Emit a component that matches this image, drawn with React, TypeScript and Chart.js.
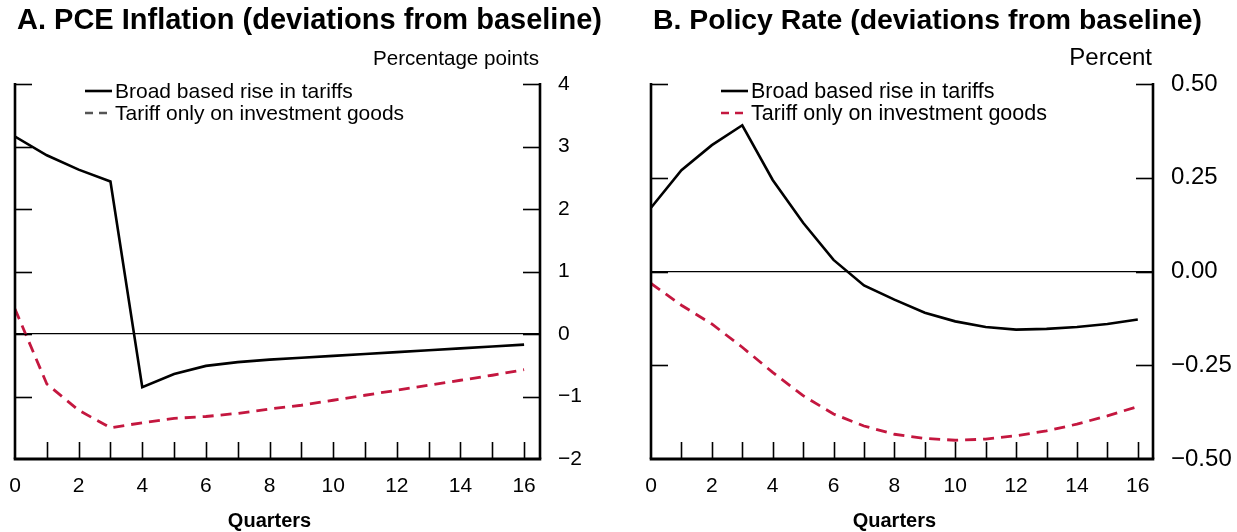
import React, { useEffect, useRef } from "react";
import { Chart, registerables } from "chart.js";

Chart.register(...registerables);

// ---------- data ----------
const quarters = [0, 1, 2, 3, 4, 5, 6, 7, 8, 9, 10, 11, 12, 13, 14, 15, 16];
const xTickValues = [0, 2, 4, 6, 8, 10, 12, 14, 16];

const pceBroad = [3.16, 2.86, 2.63, 2.44, -0.85, -0.64, -0.51, -0.45, -0.41, -0.38, -0.35, -0.32, -0.29, -0.26, -0.23, -0.2, -0.17];
const pceInvest = [0.4, -0.8, -1.22, -1.5, -1.42, -1.35, -1.32, -1.27, -1.2, -1.14, -1.06, -0.98, -0.9, -0.82, -0.74, -0.66, -0.57];
const pceYTicks = [4, 3, 2, 1, 0, -1, -2];

const policyBroad = [0.17, 0.27, 0.337, 0.39, 0.244, 0.13, 0.031, -0.037, -0.075, -0.11, -0.133, -0.148, -0.155, -0.153, -0.148, -0.14, -0.128];
const policyInvest = [-0.032, -0.09, -0.14, -0.202, -0.269, -0.331, -0.38, -0.412, -0.434, -0.445, -0.45, -0.447, -0.438, -0.425, -0.407, -0.385, -0.36];
const policyYTicks = [0.5, 0.25, 0, -0.25, -0.5];

const legendLabels = ["Broad based rise in tariffs", "Tariff only on investment goods"];
const panelTitles = ["A. PCE Inflation (deviations from baseline)", "B. Policy Rate (deviations from baseline)"];
const unitLabels = ["Percentage points", "Percent"];
const xAxisTitle = "Quarters";

// ---------- styles ----------
const FAMILY = '"Liberation Sans", Arial, Helvetica, sans-serif';
const RED = "#C4173F";
const H = 532;
const PLOT_TOP = 84;
const PLOT_BOTTOM = 459;

const minus = (s: string) => s.replace("-", "\u2212");

type Spec = {
  title: string;
  unit: string;
  broad: number[];
  invest: number[];
  yMin: number;
  yMax: number;
  yTicks: number[];
  fmt: (v: number) => string;
  width: number;
  plotLeft: number;
  plotRight: number;
  legendDashColor: string;
  titleSize: number;
  unitSize: number;
  yLabelSize: number;
  legendSize: number;
};

function line(ctx: CanvasRenderingContext2D, x1: number, y1: number, x2: number, y2: number) {
  ctx.beginPath();
  ctx.moveTo(x1, y1);
  ctx.lineTo(x2, y2);
  ctx.stroke();
}

function makePlugin(spec: Spec) {
  return {
    id: "frameAndText",
    afterDraw(chart: any) {
      const ctx: CanvasRenderingContext2D = chart.ctx;
      const { left, right, top, bottom } = chart.chartArea;
      const xs = chart.scales.x;
      const ys = chart.scales.y;
      ctx.save();
      ctx.strokeStyle = "#000";
      ctx.fillStyle = "#000";
      ctx.lineCap = "butt";
      ctx.setLineDash([]);

      // inward y ticks, both sides
      ctx.lineWidth = 1.6;
      for (const v of spec.yTicks) {
        if (v === spec.yMin) continue;
        const py = Math.round(ys.getPixelForValue(v)) + 0.5;
        line(ctx, left, py, left + 17, py);
        line(ctx, right - 17, py, right, py);
      }
      // inward x ticks
      for (const q of quarters) {
        if (q === 0) continue;
        const px = Math.round(xs.getPixelForValue(q)) + 0.5;
        line(ctx, px, bottom, px, bottom - 17);
      }
      // frame
      ctx.lineWidth = 2.6;
      line(ctx, left, top - 1, left, bottom);
      line(ctx, right, top - 1, right, bottom);
      ctx.lineWidth = 3;
      line(ctx, left - 1.3, bottom, right + 1.3, bottom);

      // title
      ctx.textAlign = "left";
      ctx.textBaseline = "alphabetic";
      ctx.font = `bold ${spec.titleSize}px ${FAMILY}`;
      ctx.fillText(spec.title, left + 2, 29);
      // unit
      ctx.textAlign = "right";
      ctx.font = `${spec.unitSize}px ${FAMILY}`;
      ctx.fillText(spec.unit, right - 1, 65);

      // legend
      const lx = left + 70;
      const rows = [91, 113];
      ctx.lineWidth = 2.6;
      line(ctx, lx, rows[0], lx + 27, rows[0]);
      ctx.strokeStyle = spec.legendDashColor;
      ctx.setLineDash([8, 6]);
      line(ctx, lx, rows[1], lx + 28, rows[1]);
      ctx.setLineDash([]);
      ctx.textAlign = "left";
      ctx.textBaseline = "middle";
      ctx.font = `${spec.legendSize}px ${FAMILY}`;
      ctx.fillText(legendLabels[0], lx + 30, rows[0] + 1);
      ctx.fillText(legendLabels[1], lx + 30, rows[1] + 1);

      // x axis title
      ctx.textAlign = "center";
      ctx.font = `bold 20px ${FAMILY}`;
      ctx.fillText(xAxisTitle, xs.getPixelForValue(8), 521);
      ctx.restore();
    },
  };
}

function Panel({ spec, offset }: { spec: Spec; offset: number }) {
  const ref = useRef<HTMLCanvasElement | null>(null);
  useEffect(() => {
    if (!ref.current) return;
    const chart = new Chart(ref.current, {
      type: "line",
      data: {
        datasets: [
          {
            label: legendLabels[0],
            data: quarters.map((q, i) => ({ x: q, y: spec.broad[i] })),
            borderColor: "#000",
            borderWidth: 2.6,
            pointRadius: 0,
            tension: 0,
            fill: false,
          },
          {
            label: legendLabels[1],
            data: quarters.map((q, i) => ({ x: q, y: spec.invest[i] })),
            borderColor: RED,
            borderWidth: 2.8,
            borderDash: [11, 7],
            pointRadius: 0,
            tension: 0,
            fill: false,
          },
        ],
      },
      options: {
        animation: false,
        responsive: false,
        devicePixelRatio: 1,
        layout: { padding: { left: spec.plotLeft, top: PLOT_TOP, right: 0, bottom: 0 } },
        plugins: { legend: { display: false }, tooltip: { enabled: false }, title: { display: false } },
        scales: {
          x: {
            type: "linear",
            min: 0,
            max: 16.5,
            afterBuildTicks: (s: any) => {
              s.ticks = xTickValues.map((v) => ({ value: v }));
            },
            afterFit: (s: any) => {
              s.height = H - PLOT_BOTTOM;
              s.paddingLeft = 0;
              s.paddingRight = 0;
            },
            grid: { display: false, drawTicks: false },
            border: { display: false },
            ticks: {
              color: "#000",
              font: { family: FAMILY, size: 21 },
              padding: 15,
              maxRotation: 0,
              autoSkip: false,
              callback: (v: any) => String(v),
            },
          },
          y: {
            type: "linear",
            position: "right",
            min: spec.yMin,
            max: spec.yMax,
            afterBuildTicks: (s: any) => {
              s.ticks = spec.yTicks.map((v) => ({ value: v }));
            },
            afterFit: (s: any) => {
              s.width = spec.width - spec.plotRight;
              s.paddingTop = 0;
              s.paddingBottom = 0;
            },
            grid: {
              drawTicks: false,
              color: (c: any) => (c.tick && c.tick.value === 0 ? "#000" : "rgba(0,0,0,0)"),
              lineWidth: 1.3,
            },
            border: { display: false },
            ticks: {
              color: "#000",
              font: { family: FAMILY, size: spec.yLabelSize },
              padding: 18,
              crossAlign: "near",
              callback: (v: any) => spec.fmt(Number(v)),
            },
          },
        },
      },
      plugins: [makePlugin(spec)],
    } as any);
    return () => chart.destroy();
  }, [spec]);
  return (
    <canvas
      ref={ref}
      width={spec.width}
      height={H}
      style={{ position: "absolute", left: offset, top: 0, display: "block" }}
    />
  );
}

const leftSpec: Spec = {
  title: panelTitles[0],
  unit: unitLabels[0],
  broad: pceBroad,
  invest: pceInvest,
  yMin: -2,
  yMax: 4,
  yTicks: pceYTicks,
  fmt: (v) => minus(String(v)),
  width: 618,
  plotLeft: 15,
  plotRight: 540,
  legendDashColor: "#555",
  titleSize: 29,
  unitSize: 20.6,
  yLabelSize: 21,
  legendSize: 21,
};

const rightSpec: Spec = {
  title: panelTitles[1],
  unit: unitLabels[1],
  broad: policyBroad,
  invest: policyInvest,
  yMin: -0.5,
  yMax: 0.5,
  yTicks: policyYTicks,
  fmt: (v) => minus(v.toFixed(2)),
  width: 619,
  plotLeft: 651 - 618,
  plotRight: 1153 - 618,
  legendDashColor: RED,
  titleSize: 28.4,
  unitSize: 24,
  yLabelSize: 24,
  legendSize: 21.5,
};

export default function App() {
  return (
    <div style={{ position: "absolute", left: 0, top: 0, width: 1237, height: H, background: "#fff", overflow: "hidden" }}>
      <Panel spec={leftSpec} offset={0} />
      <Panel spec={rightSpec} offset={618} />
    </div>
  );
}
